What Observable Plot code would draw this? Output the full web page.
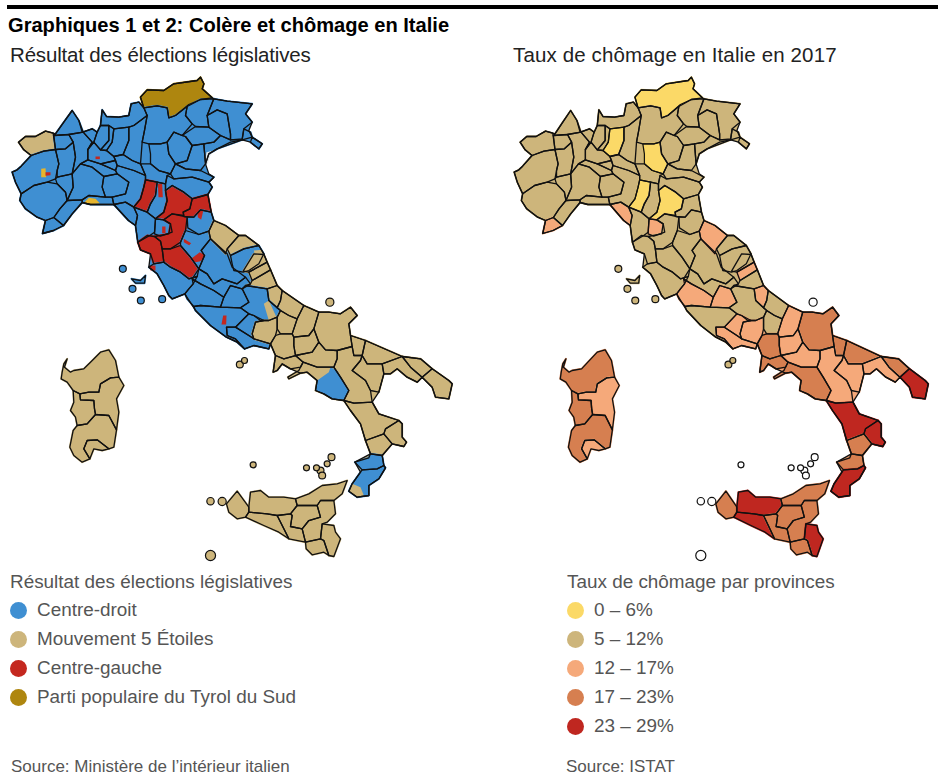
<!DOCTYPE html>
<html lang="fr">
<head>
<meta charset="utf-8">
<script src="https://cdn.jsdelivr.net/npm/d3@7"></script>
<script src="https://cdn.jsdelivr.net/npm/@observablehq/plot@0.6"></script>
<style>
html,body{margin:0;padding:0;background:#fff;font-family:"Liberation Sans",Arial,sans-serif}
#page{position:relative;width:938px;height:781px;overflow:hidden}
#page>*{position:absolute}
.rule{left:7px;top:5px;width:931px;height:4px;background:#000}
.title{left:8px;top:14px;font-size:20.1px;font-weight:bold;color:#000;white-space:nowrap}
.sub{top:43px;font-size:20.5px;color:#222;white-space:nowrap}
.lt{font-size:18.9px;color:#555;white-space:nowrap}
.src{font-size:17px;color:#555;white-space:nowrap}
.dot{width:17px;height:17px;border-radius:50%}
svg{overflow:visible}
</style>
</head>
<body>
<div id="page"></div>
<script>
// Party and unemployment classes
const partyLabels = ["Centre-droit", "Mouvement 5 Étoiles", "Centre-gauche", "Parti populaire du Tyrol du Sud"];
const partyColors = ["#3f8fd2", "#cdb57b", "#c4281f", "#ae860f"];
const rateLabels = ["0 – 6%", "5 – 12%", "12 – 17%", "17 – 23%", "23 – 29%"];
const rateColors = ["#fbd967", "#cdb57b", "#f5a97a", "#d67f50", "#bf2720"];
const CD = partyLabels[0], M5 = partyLabels[1], CG = partyLabels[2], SV = partyLabels[3];
const R0 = rateLabels[0], R1 = rateLabels[1], R2 = rateLabels[2], R3 = rateLabels[3], R4 = rateLabels[4];
const otherPatchLabels = ["Val", "Blanc"];
const otherPatchColors = ["#e6b52e", "#dfe6ea"];

// Mainland outline in map units, and the two coast points that divide north from south
const mainlandOutline = "54,425 75,408 105,408 135,392 158,398 165,400 190,365 215,330 235,360 245,395 275,385 290,395 300,375 305,328 318,348 355,350 385,345 392,310 415,305 430,322 420,290 440,268 490,270 520,250 590,240 600,230 610,250 605,265 635,292 640,295 680,302 755,310 735,340 755,365 745,390 755,410 785,430 775,445 750,425 725,418 690,425 650,445 625,460 615,490 625,520 640,530 625,545 635,560 622,582 632,635 640,660 675,675 715,705 735,705 775,735 790,760 800,785 810,808 830,855 845,870 910,915 955,935 985,935 1020,940 1050,920 1070,945 1045,970 1050,1005 1095,1020 1205,1068 1260,1075 1295,1105 1345,1140 1355,1150 1345,1195 1305,1190 1295,1160 1265,1130 1250,1145 1220,1130 1190,1105 1170,1120 1150,1120 1135,1175 1115,1205 1135,1240 1195,1260 1205,1270 1205,1310 1218,1325 1210,1338 1175,1330 1145,1365 1150,1395 1155,1402 1135,1435 1105,1455 1105,1485 1070,1490 1045,1472 1055,1450 1080,1415 1063,1385 1110,1360 1095,1320 1080,1270 1050,1230 1030,1200 995,1195 970,1180 945,1170 950,1140 920,1115 900,1118 870,1105 845,1090 830,1110 818,1115 825,1065 810,1030 805,1045 760,1035 732,1045 710,1025 678,1010 630,975 585,930 553,880 515,895 505,885 490,855 470,820 445,800 450,760 420,748 412,725 405,675 384,660 340,612 300,612 270,612 245,606 215,640 189,675 159,690 126,699 135,660 110,650 75,625 58,600 62,580 45,545 35,515 50,508 62,497 92,465 70,448";
const coastBreaks = ["845,870", "810,1030"];

// Provinces: name, election winner, unemployment class, outline in map units
const nordOuest = [
["Aoste",M5,R1,"54,425 75,408 105,408 135,392 158,398 165,447 130,452 92,465 70,448"],
["Turin",CD,R1,"35,515 50,508 62,497 92,465 130,452 165,447 175,490 170,510 165,535 140,545 100,555 62,580 45,545"],
["Coni",CD,R1,"62,580 100,555 140,545 170,550 195,575 200,600 178,625 160,651 135,660 110,650 75,625 58,600"],
["Imperia",CD,R2,"135,660 160,651 189,675 159,690 126,699"],
["Savone",CD,R1,"160,651 178,625 200,600 245,598 245,606 215,640 189,675"],
["Gênes",CD,R1,"245,598 265,585 315,590 335,590 340,612 300,612 270,612 245,606"],
["La Spezia",CD,R2,"340,612 375,605 400,620 411,645 405,675 384,660"],
["Verbania",CD,R1,"165,400 190,365 215,330 235,360 248,395 205,402 160,405"],
["Biella",CD,R1,"160,405 205,402 218,425 195,445 165,447"],
["Verceil",CD,R1,"165,447 195,445 218,425 225,470 215,520 170,530 170,510 175,490"],
["Novare",CD,R1,"205,402 248,395 275,425 262,447 262,478 240,490 215,520 225,470 218,425"],
["Asti",CD,R1,"170,530 215,520 218,560 200,600 195,575 170,550 165,535"],
["Alexandrie",CD,R1,"215,520 240,490 275,500 310,528 305,560 315,590 265,585 245,598 200,600 218,560"],
["Varèse",CD,R1,"248,395 275,385 290,395 280,425 262,447 275,425"],
["Côme",CD,R1,"290,395 300,375 325,375 325,420 300,448 280,425"],
["Lecco",CD,R1,"325,375 340,385 335,425 318,450 300,448 325,420"],
["Sondrio",CD,R1,"305,328 318,348 355,350 385,345 392,310 415,305 430,322 440,345 400,375 385,380 340,385 325,375 300,375"],
["Milan",CD,R1,"262,447 280,425 300,448 318,450 340,468 345,480 300,490 262,478"],
["Bergame",CD,R0,"340,385 385,380 385,420 368,462 340,468 318,450 335,425"],
["Brescia",CD,R1,"385,380 400,375 440,345 432,390 425,425 420,490 395,480 368,462 385,420"],
["Lodi",CD,R1,"300,490 345,480 350,495 345,510"],
["Crémone",CD,R1,"345,480 340,468 368,462 395,480 420,490 435,525 400,510 350,495"],
["Pavie",CD,R1,"240,490 262,478 300,490 345,510 350,520 310,528 275,500"],
["Mantoue",CD,R1,"420,490 450,490 475,510 510,520 500,525 495,550 470,545 435,538 435,525"]
];
const nordEst = [
["Bolzano",SV,R0,"420,290 440,268 490,270 520,250 590,240 600,230 610,250 605,265 635,292 600,297 565,312 525,345 505,352 500,322 470,316 430,322"],
["Trente",CD,R1,"430,322 470,316 500,322 505,352 525,345 560,318 555,345 575,370 545,405 520,395 500,425 480,430 445,430 425,425 432,390 440,345"],
["Belluno",CD,R1,"560,318 600,297 640,295 620,345 625,380 585,378 575,370 555,345"],
["Pordenone",CD,R1,"620,345 650,328 680,340 690,400 690,418 660,405 625,380"],
["Udine",CD,R1,"640,295 680,302 755,310 735,340 755,365 730,385 725,415 690,418 690,400 680,340 650,328 620,345"],
["Gorizia",CD,R1,"730,385 750,395 755,410 725,418"],
["Trieste",CD,R1,"755,410 785,430 775,445 750,425"],
["Vérone",CD,R0,"445,430 480,430 500,425 505,460 525,490 510,520 475,510 450,490 450,460"],
["Vicence",CD,R1,"500,425 520,395 545,405 555,408 575,435 560,480 525,490 505,460"],
["Trévise",CD,R1,"545,405 585,378 625,380 660,405 640,425 610,430 575,435 555,408"],
["Padoue",CD,R1,"560,480 575,435 610,430 615,490 600,510 555,505 525,490"],
["Venise",CD,R1,"610,430 640,425 660,405 690,418 725,418 650,445 625,460 615,490"],
["Rovigo",CD,R1,"510,520 525,490 555,505 600,510 640,530 625,545 575,530 520,535"]
];
const emilie = [
["Plaisance",CD,R1,"305,560 310,528 350,520 385,545 375,580 335,590 315,590"],
["Parme",CD,R1,"345,510 350,495 400,510 435,525 435,538 430,560 420,595 400,620 375,605 340,612 335,590 375,580 385,545 350,520"],
["Reggio d'Émilie",CG,R0,"435,538 470,545 465,585 450,610 440,635 400,620 420,595 430,560"],
["Modène",CD,R1,"470,545 495,550 495,570 500,600 490,635 465,655 440,635 450,610 465,585"],
["Bologne",CG,R0,"515,555 550,575 575,595 568,625 548,635 550,645 515,640 490,658 465,655 490,635 500,600 495,570"],
["Ferrare",CD,R1,"500,525 520,535 575,530 625,545 635,560 622,582 575,595 550,575 515,555 495,570 495,550"],
["Ravenne",CG,R1,"575,595 622,582 632,635 600,628 580,650 550,648 548,635 568,625"]
];
const centre = [
["Lucques",CD,R1,"411,645 400,620 440,635 465,655 462,695 448,705 412,725 405,675"],
["Prato",CD,R2,"465,655 490,658 510,670 515,695 480,707 462,700"],
["Florence",CG,R1,"515,640 560,650 555,690 540,725 510,745 485,745 480,722 462,708 505,700 510,670 490,658"],
["Pise",CG,R1,"412,725 440,705 462,708 480,722 485,745 490,785 460,790 450,760 420,748"],
["Sienne",CG,R1,"485,745 510,745 540,735 570,770 595,805 590,828 565,835 540,815 510,800 490,785"],
["Forlì",CD,R1,"600,628 632,635 640,660 625,692 595,702 562,682 560,650 580,650"],
["Arezzo",CD,R1,"555,690 595,702 625,692 630,715 602,750 612,765 595,805 570,770 540,735 540,725"],
["Grosseto",CD,R1,"445,800 460,790 490,785 510,800 540,815 565,835 590,828 578,850 565,865 553,880 515,895 505,885 490,855 470,820"],
["Pérouse",CD,R1,"630,715 680,760 695,800 735,830 710,850 665,835 640,850 620,820 595,805 612,765 602,750"],
["Pesaro",M5,R2,"625,692 640,660 675,675 715,705 680,745 675,760 630,715"],
["Ancône",M5,R1,"715,705 735,705 775,735 730,745 690,765 680,745"],
["Macerata",CD,R1,"690,765 730,745 775,735 790,760 775,790 745,810 728,815 700,810 695,790"],
["Fermo",M5,R1,"760,760 790,762 800,785 745,815 728,812"],
["Ascoli",M5,R2,"800,785 810,808 755,840 745,815"],
["Terni",CD,R1,"595,805 620,820 640,850 665,835 710,850 735,830 750,850 725,865 690,855 670,890 640,870 600,850 575,835"],
["Viterbe",CD,R2,"575,835 600,850 640,870 670,890 660,920 600,915 580,918 560,895 553,880 565,865 578,850"],
["Rieti",CD,R2,"690,855 725,865 745,905 720,922 660,920 670,890"],
["Teramo",M5,R1,"755,840 810,808 830,855 800,865 735,855 750,850"],
["Pescara",M5,R2,"800,865 830,855 845,870 840,900 830,922 805,900"],
["Chieti",M5,R1,"845,870 910,915 890,955 865,945 840,930 830,922 840,900"],
["L'Aquila",CD,R1,"735,855 800,865 805,900 830,922 840,930 830,950 805,960 780,960 760,945 745,940 720,922 745,905 725,865"],
["Rome",CD,R1,"580,918 600,915 660,920 720,922 745,940 730,955 705,980 678,980 680,1005 705,1015 732,1045 710,1025 678,1010 630,975 585,930"],
["Latina",CD,R2,"678,980 705,980 745,1005 760,1015 810,1030 805,1045 760,1035 732,1045 705,1015 680,1005"],
["Frosinone",CD,R2,"745,940 760,945 790,960 765,965 755,1000 760,1015 745,1005 705,980 730,955"],
["Sora",M5,R2,"765,965 790,960 805,960 830,950 830,985 825,1005 810,1030 760,1015 755,1000"]
];
const sud = [
["Isernia",M5,R1,"830,950 840,930 865,945 890,955 885,970 875,1000 840,1000 830,985"],
["Campobasso",M5,R2,"910,915 955,935 940,985 925,1005 880,1010 875,1000 885,970 890,955"],
["Foggia",M5,R3,"955,935 985,935 1020,940 1050,920 1070,945 1045,970 1050,1005 1055,1038 1010,1050 975,1048 955,1025 940,985"],
["Barletta",M5,R3,"1050,1005 1095,1020 1085,1065 1060,1065 1055,1038"],
["Bari",M5,R3,"1095,1020 1205,1068 1145,1090 1100,1090 1085,1065"],
["Brindisi",M5,R3,"1205,1068 1260,1075 1295,1105 1265,1130 1230,1100"],
["Tarente",M5,R2,"1145,1090 1205,1068 1230,1100 1265,1130 1250,1145 1220,1130 1190,1105 1170,1120 1150,1120"],
["Lecce",M5,R4,"1295,1105 1345,1140 1355,1150 1345,1195 1305,1190 1295,1160 1265,1130"],
["Matera",M5,R2,"1080,1080 1085,1065 1100,1090 1145,1090 1150,1120 1135,1175 1110,1170 1095,1140 1055,1110"],
["Potenza",M5,R2,"1010,1050 1055,1038 1060,1065 1085,1065 1080,1080 1055,1110 1095,1140 1110,1170 1115,1205 1060,1208 1030,1200 1045,1170 1020,1130 1000,1100 1010,1075"],
["Bénévent",M5,R2,"880,1010 925,1005 940,985 955,1025 935,1055 885,1065 880,1035"],
["Avellino",M5,R2,"955,1025 975,1048 1010,1050 1010,1075 1000,1100 950,1100 908,1085 885,1065 935,1055"],
["Caserte",M5,R3,"810,1030 825,1005 840,1000 875,1000 880,1010 880,1035 885,1065 850,1075 825,1065"],
["Naples",M5,R3,"825,1065 850,1075 885,1065 908,1085 900,1100 870,1105 845,1090 830,1110 818,1115"],
["Salerne",M5,R3,"908,1085 950,1100 1000,1100 1020,1130 1045,1170 1030,1200 995,1195 970,1180 945,1170 950,1140 920,1115 900,1118 865,1135 862,1130 895,1110 900,1100"],
["Cosenza",M5,R4,"1030,1200 1060,1208 1115,1205 1135,1240 1195,1260 1155,1285 1150,1300 1095,1320 1080,1270 1050,1230"],
["Crotone",M5,R4,"1195,1260 1205,1270 1205,1310 1218,1325 1210,1338 1175,1330 1150,1300 1155,1285"],
["Catanzaro",M5,R3,"1095,1320 1150,1300 1175,1330 1145,1365 1110,1360"],
["Vibo",CD,R3,"1063,1385 1105,1372 1110,1360 1145,1365 1150,1395 1130,1405 1085,1408"],
["Reggio de Calabre",CD,R4,"1085,1408 1130,1405 1150,1395 1155,1402 1135,1435 1105,1455 1105,1485 1070,1490 1045,1472 1055,1450 1080,1415"]
];
const sicile = [
["Trapani",M5,R3,"350,812 385,860 385,875 375,890 350,895 325,875 318,850"],
["Palerme",M5,R4,"385,860 390,815 420,810 445,830 490,830 525,835 530,855 510,880 470,885 440,880 385,875"],
["Messine",M5,R3,"525,835 565,820 605,795 650,790 680,780 665,820 640,840 600,840 590,855 530,855"],
["Agrigente",M5,R4,"385,875 440,880 470,885 490,925 505,955 475,935 430,915 375,890"],
["Caltanissetta",M5,R3,"470,885 510,880 515,885 510,918 545,925 555,965 505,955 490,925"],
["Enna",M5,R3,"530,855 590,855 600,890 565,900 545,925 510,918 515,885 510,880"],
["Catane",M5,R3,"600,840 640,840 645,880 620,905 605,910 600,955 555,965 545,925 565,900 600,890 590,855"],
["Syracuse",M5,R4,"605,910 640,915 645,935 660,955 640,1008 625,1005 610,960 600,955"],
["Raguse",M5,R3,"555,965 600,955 610,960 625,1005 610,995 575,1003 557,985"]
];
const sardaigne = [
["Sassari",M5,R3,"70,70 80,55 72,80 90,95 100,90 130,85 150,65 180,35 205,28 225,60 235,110 210,112 180,130 175,155 145,155 118,160 98,150 80,125 62,115 65,95"],
["Nuoro",M5,R2,"210,112 235,110 250,135 228,175 235,215 228,268 205,225 165,222 162,205 160,180 120,178 118,160 145,155 175,155 180,130"],
["Oristano",M5,R3,"98,150 118,160 120,178 160,180 162,205 165,222 140,250 110,255 105,230 90,210 100,185"],
["Sud-Sardaigne",M5,R3,"110,255 140,250 165,222 205,225 228,268 220,320 205,325 170,298 140,300 130,325 148,355 125,365 100,345 88,320 98,270"],
["Cagliari",M5,R2,"140,300 170,298 205,325 185,330 160,325 148,355 130,325"]
];
// Map-unit origin of each group of outlines
const provinceGroups = [
  [nordOuest,[0,0]],[nordEst,[0,0]],[emilie,[0,0]],[centre,[0,0]],[sud,[0,0]],
  [sicile,[360,660]],[sardaigne,[120,1020]]
];
// Municipal patches on the election map: winner, outline
const electionPatches = [
["Val","122,505 135,503 137,530 122,530"],
[CG,"135,515 150,515 150,524 135,526"],
[CG,"285,468 298,468 298,476 285,476"],
["Val","248,610 265,592 285,595 298,608 270,612"],
[CG,"472,550 485,550 487,590 474,590"],
[CG,"590,628 608,632 602,658 592,650"],
[CG,"485,678 495,678 495,698 485,698"],
[CG,"550,715 572,728 566,734 550,725"],
[CG,"572,775 598,755 615,765 600,782 585,785"],
[CG,"663,972 668,945 678,945 677,972"],
[CG,"445,795 465,795 465,810 450,810"],
[M5,"760,750 785,748 785,775 770,790 765,770"],
[M5,"790,910 805,900 830,955 805,960"],
[CD,"950,1140 985,1115 990,1100 1010,1110 1045,1170 1030,1200 995,1195 970,1180 945,1170"],
[M5,"1055,1450 1080,1460 1090,1485 1070,1490 1045,1472"],
["Blanc","612,490 618,455 640,450 628,468 622,490"]
];
// Small islands: x, y in map units; winner on the left map, fill class on the right map
const islandX = [367,396,421,485,718,732,988,758,918,948,980,993,960,965,630,665,630];
const islandY = [805,865,900,896,1092,1080,905,1393,1402,1402,1390,1370,1410,1425,1502,1503,1665];
const islandParty = [CD,CD,CD,CD,M5,M5,M5,M5,M5,M5,M5,M5,M5,M5,M5,M5,M5];
const islandRate = [R1,R1,R1,R1,R1,R1,null,null,null,null,null,null,null,null,null,null,null];
const islandSize = [1.6,1.6,1.6,1.6,1.6,1.2,2.2,1.2,1.2,1.2,1.2,1.6,1.6,1.6,1.8,2.2,3.4];
const elba = ["Elbe",CD,R1,"393,835 420,840 435,825 432,848 405,848"];

const legends = [
  {title:"Résultat des élections législatives",labels:partyLabels,colors:partyColors,tx:10,dx:18,lx:37,source:"Source: Ministère de l’intérieur italien",sx:11},
  {title:"Taux de chômage par provinces",labels:rateLabels,colors:rateColors,tx:567,dx:575,lx:594,source:"Source: ISTAT",sx:566}
];

const toRing = (s,[ox,oy]) => { const r = s.split(" ").map(p => { const [x,y]=p.split(",").map(Number); return [x+ox,y+oy]; }); r.push(r[0]); return r; };
const polygon = (ring, properties) => ({type:"Feature",properties,geometry:{type:"Polygon",coordinates:[ring]}});
const features = [];
for (const [group,origin] of provinceGroups) for (const [name,party,rate,ring] of group)
  features.push(polygon(toRing(ring,origin),{name,party,rate}));
features.push(polygon(toRing(elba[3],[0,0]),{name:elba[0],party:elba[1],rate:elba[2]}));
const patches = electionPatches.map(([party,ring]) => polygon(toRing(ring,[0,0]),{party}));
const islands = islandX.map((x,i) => ({x,y:islandY[i],party:islandParty[i],rate:islandRate[i],r:islandSize[i]}));

const outlineParts = mainlandOutline.split(" ");
const [b0,b1] = coastBreaks.map(b => outlineParts.indexOf(b));
const mainland = polygon(toRing(mainlandOutline,[0,0]),{});
const underlay = [
  polygon(toRing([...outlineParts.slice(0,b0+1),...outlineParts.slice(b1)].join(" "),[0,0]),{party:CD,rate:R1}),
  polygon(toRing(outlineParts.slice(b0,b1+1).join(" "),[0,0]),{party:M5,rate:R2})
];

const planar = (fx,fy) => d3.geoTransform({point(x,y){ this.stream.point(fx(x),fy(y)); }});
const mapHeight = 500, mapTop = 65;

function drawMap(key, projection, domain, range, extra) {
  return Plot.plot({
    width: 470, height: mapHeight, margin: 0,
    projection,
    color: {type:"ordinal", domain, range, unknown:"#fff"},
    marks: [
      Plot.geo(underlay,{fill:d=>d.properties[key]}),
      Plot.geo(features,{fill:d=>d.properties[key],stroke:d=>d.properties[key],strokeWidth:2}),
      ...extra,
      Plot.geo(features,{fill:"none",stroke:"#111",strokeWidth:1.3,strokeLinejoin:"round"}),
      Plot.geo([mainland],{fill:"none",stroke:"#111",strokeWidth:1.3,strokeLinejoin:"round"}),
      Plot.dot(islands,{x:"x",y:"y",r:"r",fill:key,stroke:"#111",strokeWidth:1.2})
    ]
  });
}

const page = d3.select("#page");
page.append("div").attr("class","rule");
page.append("div").attr("class","title").text("Graphiques 1 et 2: Colère et chômage en Italie");
page.append("div").attr("class","sub").style("left","10px").style("letter-spacing","-0.17px").text("Résultat des élections législatives");
page.append("div").attr("class","sub").style("left","513px").style("letter-spacing","0.14px").text("Taux de chômage en Italie en 2017");

const leftMap = drawMap("party", planar(x=>x/3, y=>y/3-mapTop),
  [...partyLabels,...otherPatchLabels], [...partyColors,...otherPatchColors],
  [Plot.geo(patches,{fill:d=>d.properties.party})]);
const rightMap = drawMap("rate", planar(x=>12+(x/3-12)*0.941, y=>y/3-mapTop), rateLabels, rateColors, []);
page.append(()=>leftMap).style("left","0px").style("top",mapTop+"px");
page.append(()=>rightMap).style("left","502px").style("top",mapTop+"px");

for (const l of legends) {
  page.append("div").attr("class","lt").style("left",l.tx+"px").style("top","571px").text(l.title);
  l.labels.forEach((t,i)=>{
    const cy = 610 + 29*i;
    page.append("div").attr("class","dot").style("left",(l.dx-8.5)+"px").style("top",(cy-8.5)+"px").style("background",l.colors[i]);
    page.append("div").attr("class","lt").style("left",l.lx+"px").style("top",(cy-11)+"px").text(t);
  });
  page.append("div").attr("class","src").style("left",l.sx+"px").style("top","757px").text(l.source);
}
</script>
</body>
</html>
